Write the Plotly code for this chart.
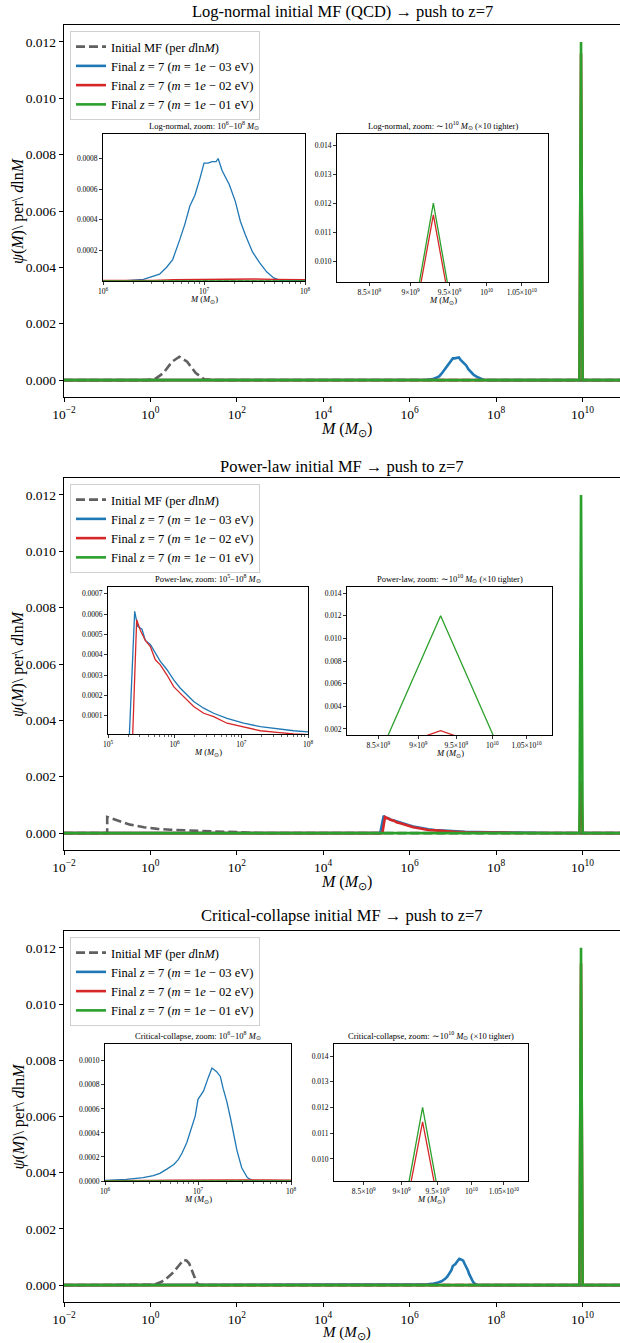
import numpy as np
import plotly.graph_objects as go

W, H = 620, 1343

# ---------------- data: log10(M / Msun) and psi(M) per dlnM ----------------
# Panel 1: Log-normal
ln_init_logM = [-2, -0.1, 0.1, 0.3, 0.5, 0.67, 0.85, 1.05, 1.25, 1.45, 11]
ln_init_val = [0, 0, 0.00003, 0.00025, 0.00065, 0.00083, 0.00065, 0.00025, 0.00003, 0, 0]
ln_blue_logM = [-2, 6.0, 6.23, 6.40, 6.50, 6.56, 6.63, 6.69, 6.76, 6.81, 6.86, 6.91, 6.96, 7.00,
                7.04, 7.08, 7.12, 7.14, 7.18, 7.25, 7.31, 7.36, 7.41, 7.48, 7.55, 7.62, 7.69,
                7.75, 8.0, 11]
ln_blue_val = [0, 0, 0.000003, 0.00001, 0.00003, 0.000045, 0.00009, 0.00014, 0.00027, 0.00037,
               0.00049, 0.00056, 0.00067, 0.00077, 0.00077, 0.00078, 0.00078, 0.0008, 0.00072,
               0.00063, 0.00052, 0.00039, 0.0003, 0.00019, 0.00012, 0.00006, 0.00002, 0.000005,
               0, 0]
ln_red_logM = [-2, 6.3, 6.5, 6.7, 6.9, 7.1, 7.3, 7.5, 7.7, 7.9, 8.1, 8.4, 8.7, 9.0, 9.3, 9.6,
               9.931, 9.968, 10.005, 11]
ln_red_val = [0, 0, 0.000004, 0.000008, 0.00001, 0.000012, 0.000011, 0.000013, 0.00001, 0.000009,
              0.000008, 0.000006, 0.000005, 0.000004, 0.000003, 0.000002, 0, 0.01159, 0, 0]
ln_green_logM = [-2, 9.931, 9.968, 10.005, 11]
ln_green_val = [0, 0, 0.012, 0, 0]

# Panel 2: Power-law
pl_init_logM = [-2, -1.0, -1.0, -0.78, -0.47, -0.15, 0.16, 0.47, 0.95, 1.43, 2.0, 2.5, 2.5, 11]
pl_init_val = [0, 0, 0.00057, 0.00045, 0.0003, 0.00021, 0.00015, 0.00012, 0.00008, 0.00006,
               0.000035, 0.00002, 0, 0]
pl_blue_logM = [-2, 5.32, 5.40, 5.445, 5.51, 5.56, 5.635, 5.71, 5.785, 5.885, 5.985, 6.085, 6.185,
                6.285, 6.435, 6.585, 6.785, 7.035, 7.285, 7.535, 7.785, 8.0, 8.3, 8.6, 8.9, 9.2,
                9.5, 11]
pl_blue_val = [0, 0, 0.000613, 0.00054, 0.000526, 0.00047, 0.00045, 0.00041, 0.000367, 0.000326,
               0.000276, 0.000235, 0.0002, 0.00017, 0.000137, 0.000112, 0.000087, 0.000063,
               0.000046, 0.000035, 0.000026, 0.00002, 0.000014, 0.00001, 0.000007, 0.000005, 0, 0]
pl_red_logM = [-2, 5.37, 5.43, 5.485, 5.56, 5.635, 5.71, 5.785, 5.885, 5.985, 6.085, 6.185, 6.285,
               6.435, 6.585, 6.785, 7.035, 7.285, 7.535, 7.785, 8.0, 8.3, 8.6, 8.9, 9.2, 9.5,
               9.931, 9.968, 10.005, 11]
pl_red_val = [0, 0, 0.000572, 0.00052, 0.00047, 0.00044, 0.000375, 0.00035, 0.0003, 0.000243,
              0.00021, 0.000178, 0.000145, 0.000112, 0.000095, 0.000063, 0.000046, 0.000026,
              0.000018, 0.00001, 0.000007, 0.000005, 0.000004, 0.000003, 0.000002, 0, 0,
              0.00185, 0, 0]
pl_green_logM = [-2, 9.931, 9.968, 10.005, 11]
pl_green_val = [0, 0, 0.012, 0, 0]

# Panel 3: Critical-collapse
cc_init_logM = [-2, -0.3, -0.1, 0.0, 0.13, 0.26, 0.4, 0.54, 0.66, 0.77, 0.84, 0.9, 0.98, 1.04,
                1.08, 1.15, 11]
cc_init_val = [0, 0, 0.000003, 0.000012, 0.00004, 0.00012, 0.00027, 0.00047, 0.0007, 0.0009,
               0.00087, 0.00076, 0.00045, 0.00018, 0.00006, 0, 0]
cc_blue_logM = [-2, 6.0, 6.23, 6.41, 6.52, 6.59, 6.66, 6.74, 6.79, 6.83, 6.88, 6.93, 6.97, 7.0,
                7.06, 7.11, 7.15, 7.20, 7.24, 7.27, 7.31, 7.35, 7.38, 7.42, 7.47, 7.53, 7.58,
                7.67, 11]
cc_blue_val = [0, 0.0000055, 0.000014, 0.000028, 0.000044, 0.000064, 0.000097, 0.000138, 0.00018,
               0.000235, 0.00032, 0.00044, 0.00054, 0.00068, 0.00075, 0.00086, 0.00094, 0.00091,
               0.00087, 0.00077, 0.00066, 0.00052, 0.00039, 0.00025, 0.00011, 0.000028,
               0.0000055, 0, 0]
cc_red_logM = [-2, 6.3, 6.5, 6.7, 6.9, 7.1, 7.3, 7.5, 7.7, 7.9, 8.1, 8.4, 8.7, 9.0, 9.3, 9.6,
               9.931, 9.968, 10.005, 11]
cc_red_val = [0, 0, 0.000004, 0.000007, 0.000009, 0.00001, 0.000011, 0.00001, 0.000009, 0.000008,
              0.000007, 0.000006, 0.000005, 0.000004, 0.000003, 0.000002, 0, 0.01144, 0, 0]
cc_green_logM = [-2, 9.931, 9.968, 10.005, 11]
cc_green_val = [0, 0, 0.012, 0, 0]

# text
panel_titles = ["Log-normal initial MF (QCD) → push to z=7",
                "Power-law initial MF → push to z=7",
                "Critical-collapse initial MF → push to z=7"]
short_names = ["Log-normal", "Power-law", "Critical-collapse"]
legend_names = ["Initial MF (per <i>d</i>ln<i>M</i>)",
                "Final <i>z</i> = 7 (<i>m</i> = 1<i>e</i> − 03 eV)",
                "Final <i>z</i> = 7 (<i>m</i> = 1<i>e</i> − 02 eV)",
                "Final <i>z</i> = 7 (<i>m</i> = 1<i>e</i> − 01 eV)"]
main_xtick_vals = [1e-2, 1e0, 1e2, 1e4, 1e6, 1e8, 1e10]
main_xtick_text = ["10<sup>−2</sup>", "10<sup>0</sup>", "10<sup>2</sup>", "10<sup>4</sup>",
                   "10<sup>6</sup>", "10<sup>8</sup>", "10<sup>10</sup>"]
main_ytick_vals = [0, 0.002, 0.004, 0.006, 0.008, 0.010, 0.012]
zoom2_tick_vals = [8.5e9, 9e9, 9.5e9, 1e10, 1.05e10]
zoom2_tick_text = ["8.5×10<sup>9</sup>", "9×10<sup>9</sup>", "9.5×10<sup>9</sup>",
                   "10<sup>10</sup>", "1.05×10<sup>10</sup>"]

# ---------------- layout geometry (pixels) ----------------
FONT = "Liberation Serif"
colors = ["#606060", "#1f77b4", "#d62728", "#2ca02c"]

panels = [
    dict(series=[(ln_init_logM, ln_init_val), (ln_blue_logM, ln_blue_val),
                 (ln_red_logM, ln_red_val), (ln_green_logM, ln_green_val)],
         top=25, bot=397, title_y=12, xlab_bottom=None,
         in1=(103, 134, 305, 281), in1_x=[6, 8], in1_y=[0.0, 0.00096],
         in1_yt=[0.0002, 0.0004, 0.0006, 0.0008], in1_fmt=".4f", in1_lo=6,
         in2=(337, 134, 548, 282), in2_y=[0.00928, 0.01438],
         in2_yt=[0.010, 0.011, 0.012, 0.013, 0.014]),
    dict(series=[(pl_init_logM, pl_init_val), (pl_blue_logM, pl_blue_val),
                 (pl_red_logM, pl_red_val), (pl_green_logM, pl_green_val)],
         top=478, bot=850, title_y=467, xlab_bottom=None,
         in1=(108, 587, 308, 734), in1_x=[5, 8], in1_y=[0.00001, 0.000733],
         in1_yt=[0.0001, 0.0002, 0.0003, 0.0004, 0.0005, 0.0006, 0.0007], in1_fmt=".4f",
         in1_lo=5,
         in2=(347, 587, 552, 735), in2_y=[0.00147, 0.01453],
         in2_yt=[0.002, 0.004, 0.006, 0.008, 0.010, 0.012, 0.014]),
    dict(series=[(cc_init_logM, cc_init_val), (cc_blue_logM, cc_blue_val),
                 (cc_red_logM, cc_red_val), (cc_green_logM, cc_green_val)],
         top=931, bot=1302, title_y=916, xlab_bottom=1343,
         in1=(105, 1044, 291, 1181), in1_x=[6, 8], in1_y=[0.0, 0.00114],
         in1_yt=[0.0, 0.0002, 0.0004, 0.0006, 0.0008, 0.0010], in1_fmt=".4f", in1_lo=6,
         in2=(334, 1044, 528, 1181), in2_y=[0.00914, 0.01447],
         in2_yt=[0.010, 0.011, 0.012, 0.013, 0.014]),
]

AX_L, AX_R = 64, 620
XR_MAIN = [-2, 10.87]
ZOOM2_XR = [9.910, 10.037]


def fx(px):
    return px / W


def fy(py):
    return 1 - py / H


fig = go.Figure()
layout = dict(template="none", width=W, height=H, autosize=False,
              margin=dict(l=0, r=0, t=0, b=0, pad=0),
              paper_bgcolor="white", plot_bgcolor="white",
              font=dict(family=FONT, color="black"), showlegend=True)
annotations = []


def axname(i, letter):
    return letter + ("" if i == 1 else str(i))


def axkey(i, letter):
    return letter + "axis" + ("" if i == 1 else str(i))


for p, P in enumerate(panels):
    im, i1, i2 = 3 * p + 1, 3 * p + 2, 3 * p + 3
    legname = "legend" if p == 0 else "legend%d" % (p + 1)
    for k, (lm, vals) in enumerate(P["series"]):
        M = np.power(10.0, np.array(lm, dtype=float))
        v = np.array(vals, dtype=float)
        dash = "9px,4px" if k == 0 else "solid"
        # main
        fig.add_trace(go.Scatter(x=M, y=v, mode="lines", name=legend_names[k],
                                 line=dict(color=colors[k], width=2.6, dash=dash),
                                 xaxis=axname(im, "x"), yaxis=axname(im, "y"),
                                 legend=legname, showlegend=True, hoverinfo="skip"))
        # insets
        for ii in (i1, i2):
            fig.add_trace(go.Scatter(x=M, y=v, mode="lines",
                                     line=dict(color=colors[k], width=1.3,
                                               dash="5px,2px" if k == 0 else "solid"),
                                     xaxis=axname(ii, "x"), yaxis=axname(ii, "y"),
                                     showlegend=False, hoverinfo="skip"))

    common = dict(showgrid=False, zeroline=False, automargin=False, showline=True,
                  linecolor="black", ticks="outside", tickcolor="black")
    # main axes
    layout[axkey(im, "x")] = dict(
        type="log", range=XR_MAIN, domain=[fx(AX_L), fx(AX_R)], anchor=axname(im, "y"),
        linewidth=1.3, mirror=True, ticklen=4, tickwidth=1,
        tickvals=main_xtick_vals, ticktext=main_xtick_text,
        tickfont=dict(size=13.5, family=FONT), **common)
    layout[axkey(im, "y")] = dict(
        range=[-0.0006, 0.0126], domain=[fy(P["bot"]), fy(P["top"])], anchor=axname(im, "x"),
        linewidth=1.3, mirror=False, ticklen=4, tickwidth=1,
        tickvals=main_ytick_vals, tickformat=".3f",
        tickfont=dict(size=13.5, family=FONT), **common)

    # legend
    layout[legname] = dict(x=fx(70), y=fy(P["top"] + 6), xanchor="left", yanchor="top",
                           bgcolor="rgba(255,255,255,0.85)", bordercolor="#d0d0d0",
                           borderwidth=1, font=dict(size=12.5, family=FONT),
                           tracegroupgap=0, itemwidth=30)

    # inset 1 (log zoom)
    x0, y0, x1, y1 = P["in1"]
    lo = P["in1_lo"]
    major = [10.0 ** e for e in range(lo, 9)]
    minor = [m * 10.0 ** e for e in range(lo, 8) for m in range(2, 10)]
    layout[axkey(i1, "x")] = dict(
        type="log", range=P["in1_x"], domain=[fx(x0), fx(x1)], anchor=axname(i1, "y"),
        linewidth=1, mirror=True, ticklen=3, tickwidth=0.8,
        tickvals=major, ticktext=["10<sup>%d</sup>" % e for e in range(lo, 9)],
        minor=dict(tickvals=minor, ticks="outside", ticklen=1.8, tickwidth=0.6,
                   tickcolor="black"),
        tickfont=dict(size=7.5, family=FONT), **common)
    layout[axkey(i1, "y")] = dict(
        range=P["in1_y"], domain=[fy(y1), fy(y0)], anchor=axname(i1, "x"),
        linewidth=1, mirror=True, ticklen=3, tickwidth=0.8,
        tickvals=P["in1_yt"], tickformat=P["in1_fmt"],
        tickfont=dict(size=7.5, family=FONT), **common)
    annotations.append(dict(
        x=fx((x0 + x1) / 2), y=fy(y0 - 1), xref="paper", yref="paper",
        xanchor="center", yanchor="bottom", showarrow=False,
        text="%s, zoom: 10<sup>%d</sup>−10<sup>8</sup> <i>M</i><sub>⊙</sub>" % (short_names[p], lo),
        font=dict(size=8.5, family=FONT)))
    annotations.append(dict(
        x=fx((x0 + x1) / 2), y=fy(y1 + 11), xref="paper", yref="paper",
        xanchor="center", yanchor="top", showarrow=False,
        text="<i>M</i> (<i>M</i><sub>⊙</sub>)", font=dict(size=8.5, family=FONT)))

    # inset 2 (around 1e10)
    x0, y0, x1, y1 = P["in2"]
    layout[axkey(i2, "x")] = dict(
        type="log", range=ZOOM2_XR, domain=[fx(x0), fx(x1)], anchor=axname(i2, "y"),
        linewidth=1, mirror=True, ticklen=3, tickwidth=0.8,
        tickvals=zoom2_tick_vals, ticktext=zoom2_tick_text,
        tickfont=dict(size=7.5, family=FONT), **common)
    layout[axkey(i2, "y")] = dict(
        range=P["in2_y"], domain=[fy(y1), fy(y0)], anchor=axname(i2, "x"),
        linewidth=1, mirror=True, ticklen=3, tickwidth=0.8,
        tickvals=P["in2_yt"], tickformat=".3f",
        tickfont=dict(size=7.5, family=FONT), **common)
    annotations.append(dict(
        x=fx((x0 + x1) / 2), y=fy(y0 - 1), xref="paper", yref="paper",
        xanchor="center", yanchor="bottom", showarrow=False,
        text="%s, zoom: ∼10<sup>10</sup> <i>M</i><sub>⊙</sub> (×10 tighter)" % short_names[p],
        font=dict(size=8.5, family=FONT)))
    annotations.append(dict(
        x=fx((x0 + x1) / 2), y=fy(y1 + 11), xref="paper", yref="paper",
        xanchor="center", yanchor="top", showarrow=False,
        text="<i>M</i> (<i>M</i><sub>⊙</sub>)", font=dict(size=8.5, family=FONT)))

    # main title, axis labels
    annotations.append(dict(
        x=fx((AX_L + AX_R) / 2), y=fy(P["title_y"]), xref="paper", yref="paper",
        xanchor="center", yanchor="middle", showarrow=False, text=panel_titles[p],
        font=dict(size=16.5, family=FONT)))
    if P["xlab_bottom"] is None:
        xl_y, xl_anchor, xl_size = fy(P["bot"] + 22), "top", 16
    else:
        xl_y, xl_anchor, xl_size = fy(P["xlab_bottom"]), "bottom", 15
    annotations.append(dict(
        x=fx((AX_L + AX_R) / 2 + 4), y=xl_y, xref="paper", yref="paper",
        xanchor="center", yanchor=xl_anchor, showarrow=False, borderpad=0,
        text="<i>M</i> (<i>M</i><sub>⊙</sub>)", font=dict(size=xl_size, family=FONT)))
    annotations.append(dict(
        x=fx(18), y=fy((P["top"] + P["bot"]) / 2), xref="paper", yref="paper",
        xanchor="center", yanchor="middle", showarrow=False, textangle=-90,
        text="<i>ψ</i>(<i>M</i>)\\ per\\ <i>d</i>ln<i>M</i>", font=dict(size=16, family=FONT)))

layout["annotations"] = annotations
fig.update_layout(**layout)
fig.write_html("out.html", config={"displayModeBar": False, "staticPlot": True},
               post_script="document.body.style.margin='0';document.body.style.padding='0';"
                           "document.documentElement.style.overflow='hidden';")
